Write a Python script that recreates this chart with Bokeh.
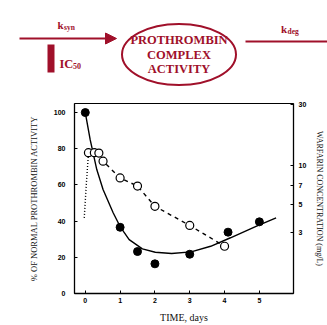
from bokeh.plotting import figure
from bokeh.models import (Range1d, LinearAxis, LogAxis, LogScale, FixedTicker,
                          PrintfTickFormatter, Arrow, NormalHead)
from bokeh.core.properties import value
from bokeh.embed import file_html
from bokeh.resources import INLINE

# ---------------- data ----------------
# prothrombin complex activity (% of normal), filled circles
act_t = [0, 1.0, 1.5, 2.0, 3.0, 4.1, 5.0]
act_v = [100, 36.6, 23.2, 16.4, 21.7, 33.9, 39.6]
# fitted activity curve (solid)
fit_t = [0, 0.14, 0.33, 0.51, 0.8, 1.0, 1.26, 1.64, 2.01, 2.48, 3.04, 3.6, 4.17, 4.92, 5.48]
fit_v = [100, 85, 68.5, 57.5, 44.6, 37, 29.8, 24.7, 22.8, 22.1, 23, 26.1, 30.8, 37.2, 41.8]
# warfarin concentration (mg/L), open circles, right log axis
conc_t = [0.09, 0.26, 0.39, 0.51, 1.0, 1.5, 2.0, 3.0, 4.0]
conc_v = [12.6, 12.6, 12.5, 10.8, 8.0, 6.9, 4.8, 3.4, 2.34]
# absorption phase (dotted)
abs_t = [-0.03, 0.03, 0.09]
abs_v = [3.9, 7.2, 12.3]

left_ticks = [0, 20, 40, 60, 80, 100]
right_ticks = [3, 5, 7, 10, 30]
x_ticks = [0, 1, 2, 3, 4, 5]

RED = "#a0102a"
SERIF = "Liberation Serif"

# ---------------- diagram (top) ----------------
d = figure(width=327, height=87, x_range=Range1d(0, 327), y_range=Range1d(87, 0),
           output_backend="svg", toolbar_location=None, min_border=0,
           x_axis_location=None, y_axis_location=None)
d.grid.visible = False
d.outline_line_color = None

# input arrow (synthesis)
d.add_layout(Arrow(end=NormalHead(size=11, fill_color=RED, line_color=RED),
                   x_start=19, y_start=38, x_end=116, y_end=38,
                   line_color=RED, line_width=2))
# output line (degradation)
d.line([245, 327], [41, 41], line_color=RED, line_width=2)
# inhibition bar
d.rect(x=[50.5], y=[58], width=7, height=28, fill_color=RED, line_color=None)
# compartment
d.ellipse(x=[178.5], y=[54], width=114, height=61, fill_color=None,
          line_color=RED, line_width=2)
d.text(x=[178.5, 178.5, 178.5], y=[39, 54, 68], text=["PROTHROMBIN", "COMPLEX", "ACTIVITY"],
       text_font=value(SERIF), text_font_style="bold", text_font_size="12.5px",
       text_color=RED, text_align="center", text_baseline="middle")
# rate labels
d.text(x=[57], y=[24.5], text=["k"], text_font=value(SERIF), text_font_style="bold",
       text_font_size="11px", text_color=RED, text_baseline="alphabetic")
d.text(x=[63.5], y=[26.5], text=["syn"], text_font=value(SERIF), text_font_style="bold",
       text_font_size="7.5px", text_color=RED, text_baseline="alphabetic")
d.text(x=[280.5], y=[28.5], text=["k"], text_font=value(SERIF), text_font_style="bold",
       text_font_size="11px", text_color=RED, text_baseline="alphabetic")
d.text(x=[287], y=[31], text=["deg"], text_font=value(SERIF), text_font_style="bold",
       text_font_size="7.5px", text_color=RED, text_baseline="alphabetic")
d.text(x=[59], y=[63], text=["IC"], text_font=value(SERIF), text_font_style="bold",
       text_font_size="12.5px", text_color=RED, text_baseline="alphabetic")
d.text(x=[72.5], y=[65.5], text=["50"], text_font=value(SERIF), text_font_style="bold",
       text_font_size="8px", text_color=RED, text_baseline="alphabetic")

# ---------------- chart (bottom) ----------------
p = figure(width=327, height=238, x_range=Range1d(-0.31, 5.98), y_range=Range1d(0, 105),
           output_backend="svg", toolbar_location=None,
           min_border_left=74, min_border_right=29, min_border_top=16, min_border_bottom=31,
           y_axis_location=None, x_axis_location=None)
p.grid.visible = False
p.outline_line_color = "black"
p.outline_line_width = 1
p.extra_y_ranges = {"conc": Range1d(1, 30.5)}
p.extra_y_scales = {"conc": LogScale()}

xa = LinearAxis(ticker=FixedTicker(ticks=x_ticks), axis_label="TIME, days")
ya = LinearAxis(ticker=FixedTicker(ticks=left_ticks),
                axis_label="% OF NORMAL PROTHROMBIN ACTIVITY")
ra = LogAxis(y_range_name="conc", ticker=FixedTicker(ticks=right_ticks),
             formatter=PrintfTickFormatter(format="%d"),
             axis_label="WARFARIN CONCENTRATION (mg/L)")
for ax in (xa, ya, ra):
    ax.major_tick_in = 3
    ax.major_tick_out = 0
    ax.minor_tick_line_color = None
    ax.axis_line_color = "black"
    ax.axis_line_width = 1.3
    ax.major_tick_line_color = "black"
    ax.major_label_text_font = "Liberation Sans"
    ax.major_label_text_font_style = "bold"
    ax.major_label_text_font_size = "7px"
    ax.major_label_text_color = "black"
    ax.axis_label_text_font = "Liberation Sans Narrow"
    ax.axis_label_text_font_style = "normal"
    ax.axis_label_text_color = "#111111"
xa.major_label_standoff = 4
xa.axis_label_standoff = 6
xa.axis_label_text_font_size = "10px"
ya.major_label_standoff = 9
ya.axis_label_standoff = 12
ya.axis_label_text_font_size = "8.5px"
ra.major_label_standoff = 5
ra.axis_label_standoff = 6
ra.axis_label_text_font_size = "8px"
p.add_layout(xa, "below")
p.add_layout(ya, "left")
p.add_layout(ra, "right")

# activity fit and points
p.line(fit_t, fit_v, line_color="black", line_width=1.4)
p.scatter(act_t, act_v, size=8, fill_color="black", line_color="black")
# warfarin concentration
p.line(abs_t, abs_v, y_range_name="conc", line_color="black", line_width=1.4, line_dash="1 2")
p.line(conc_t, conc_v, y_range_name="conc", line_color="black", line_width=1.4, line_dash="4 4")
p.scatter(conc_t, conc_v, y_range_name="conc", size=8, fill_color="white",
          line_color="black", line_width=1.2)

open("out.html", "w").write(file_html([d, p], INLINE))
